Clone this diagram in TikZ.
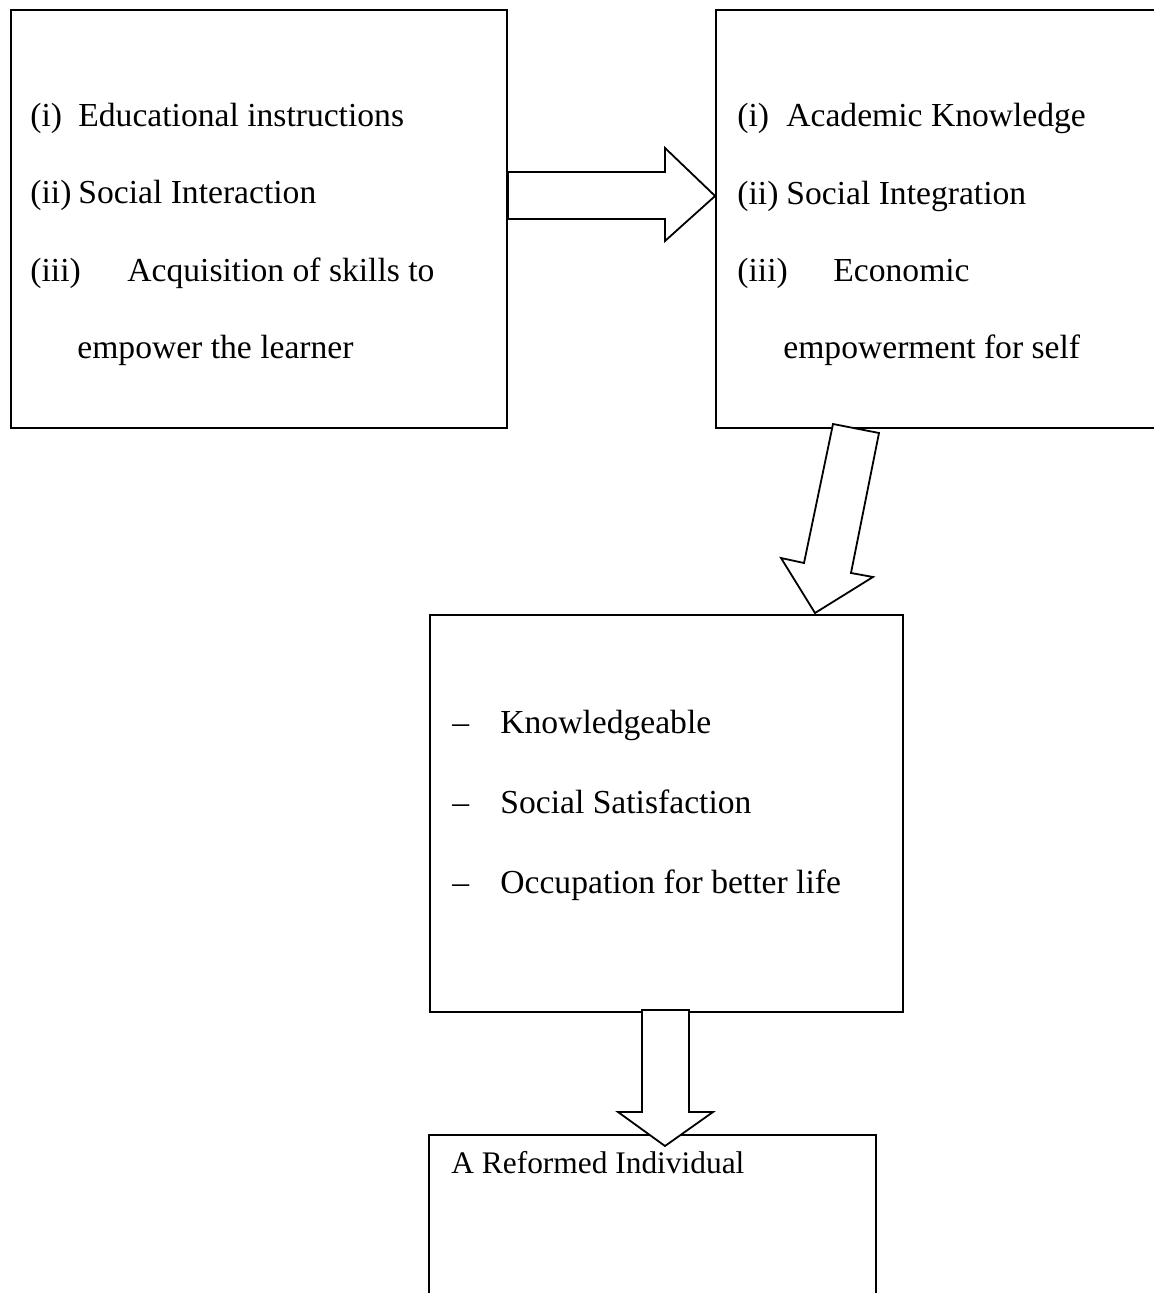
\documentclass[tikz,border=0pt]{standalone}
\usepackage{fontspec}
\setmainfont{Liberation Serif}
\usetikzlibrary{positioning}

\begin{document}
\begin{tikzpicture}[x=0.5pt, y=-0.5pt,
  box/.style = {draw, line width=0.9pt, inner sep=0pt},
  txt/.style = {anchor=base west, inner sep=0pt, font=\fontsize{16.8}{20}\selectfont},
  blk/.style = {draw, fill=white, line width=0.9pt, line join=miter}]
  \useasboundingbox (0,0) rectangle (1153,1293);

  % boxes
  \node[box, minimum width=248pt, minimum height=209pt] (in) at (259,219) {};
  \node[box, minimum width=224pt, minimum height=209pt] (out) at (940,219) {};
  \node[box, minimum width=236.5pt, minimum height=198.5pt] (res) at (666.5,813.5) {};
  \node[box, minimum width=223.5pt, minimum height=82.5pt] (ref) at (652.5,1217.5) {};

  % texts
  \node[txt] (in1) at (30,127) {\makebox[24pt][l]{(i)}Educational instructions};
  \node[txt] (in2) at (30,204) {\makebox[24pt][l]{(ii)}Social Interaction};
  \node[txt] (in3) at (30,282) {\makebox[48.5pt][l]{(iii)}Acquisition of skills to};
  \node[txt] (in4) at (77,359) {empower the learner};

  \node[txt] (out1) at (737,127) {\makebox[24.5pt][l]{(i)}Academic Knowledge};
  \node[txt] (out2) at (737,205) {\makebox[24.5pt][l]{(ii)}Social Integration};
  \node[txt] (out3) at (737,282) {\makebox[48pt][l]{(iii)}Economic};
  \node[txt] (out4) at (783,359) {empowerment for self};

  \node[txt] (res1) at (452,733) {\makebox[24pt][l]{\textendash}Knowledgeable};
  \node[txt] (res2) at (452,813) {\makebox[24pt][l]{\textendash}Social Satisfaction};
  \node[txt] (res3) at (452,893) {\makebox[24pt][l]{\textendash}Occupation for better life};

  \node[txt, font=\fontsize{15.7}{19}\selectfont] (ref1) at (451,1173) {A Reformed Individual};

  % block arrows
  \draw[blk] (in.east |- 0,172) -- (665,172) -- (665,148) -- (out.west |- 0,196)
    -- (665,241) -- (665,219) -- (in.east |- 0,219) -- cycle;
  \draw[blk] (833,424) -- (879,433) -- (851,573) -- (873,577) -- (815,613)
    -- (781,558) -- (804,563) -- cycle;
  \draw[blk] (642,1010) -- (642,1112) -- (618,1112) -- (665,1146) -- (713,1112)
    -- (689,1112) -- (689,1010) -- cycle;
\end{tikzpicture}
\end{document}
